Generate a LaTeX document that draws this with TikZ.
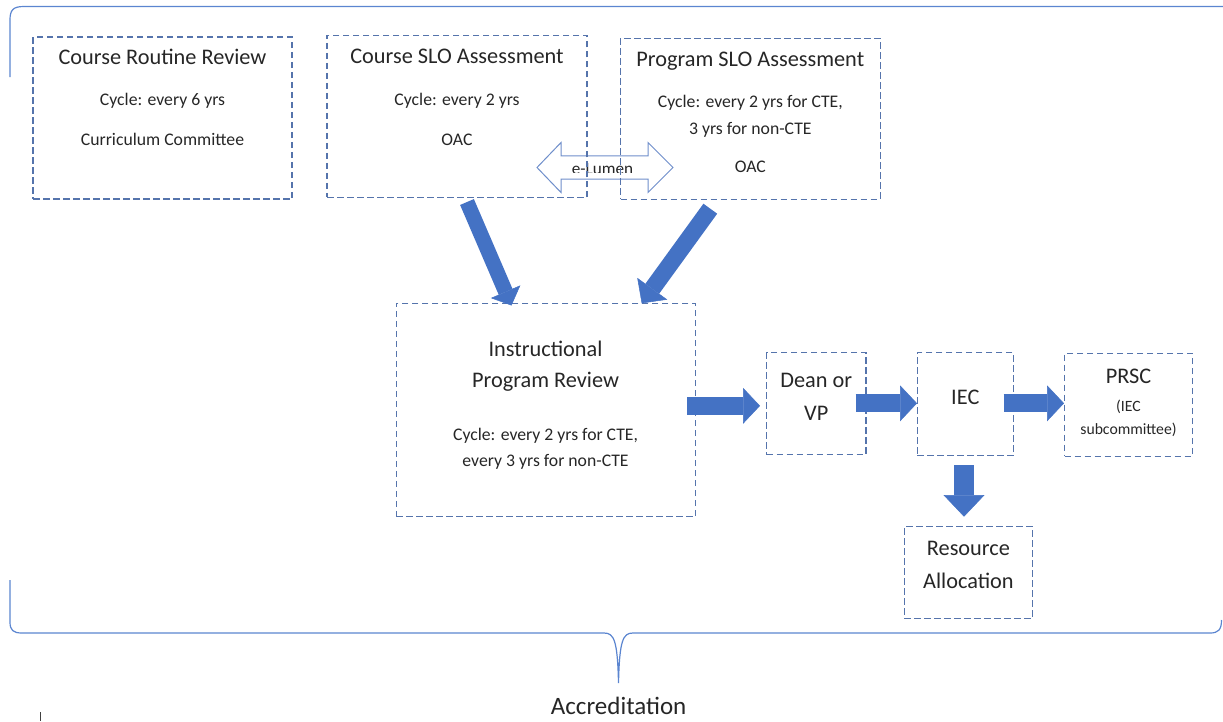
\documentclass[tikz,border=0pt]{standalone}
\usepackage{fontspec}
\setmainfont{Carlito}
\usetikzlibrary{arrows.meta}
\definecolor{boxblue}{HTML}{5574AC}
\definecolor{arrblue}{HTML}{4472C4}
\definecolor{brblue}{HTML}{5B85D0}
\definecolor{elblue}{HTML}{6F8FCB}
\definecolor{txt}{HTML}{262626}
\begin{document}
\begin{tikzpicture}[x=1pt,y=-1pt,
 box/.style={draw=boxblue, line width=1.1pt, dash pattern=on 6.5pt off 3.5pt, inner sep=0pt},
 ttl/.style={anchor=base, inner sep=0pt, text=txt, font=\fontsize{22.3}{26}\selectfont},
 sub/.style={anchor=base, inner sep=0pt, text=txt, font=\fontsize{17.7}{21}\selectfont},
 small/.style={anchor=base, inner sep=0pt, text=txt, font=\fontsize{15.7}{19}\selectfont},
 fat/.style={draw=arrblue, line width=18pt, -{Triangle[length=17pt,width=36pt,line width=0.5pt]}},
 brace/.style={draw=brblue, line width=1.2pt},
]
\useasboundingbox (0,0) rectangle (1223,721);

% bracket
\draw[brace] (10,77) -- (10,20) .. controls (10,10) and (13,6.5) .. (24,6.5) -- (1223,6.5);
\draw[brace] (10,580) -- (10,622) .. controls (10,630) and (13,633) .. (22,633) -- (604,633)
  .. controls (614,633) and (617.5,640) .. (618.5,683)
  .. controls (619.5,640) and (623,633) .. (633,633) -- (1210,633)
  .. controls (1218,633) and (1221.5,630) .. (1221.5,620);
\node[anchor=base, inner sep=0pt, text=txt, font=\fontsize{25}{29}\selectfont] (acc) at (618.6,714.7) {Accreditation};
\draw[black!75, line width=0.8pt] (40,712) -- (40,721);

% e-Lumen double arrow
\draw[elblue, fill=white, line width=1pt] (537,167.5) -- (561,142.5) -- (561,155.8) -- (648,155.8) -- (648,142.5)
  -- (673,167.5) -- (648,192.5) -- (648,179.2) -- (561,179.2) -- (561,192.5) -- cycle;
\begin{scope}
\clip (562,156.5) rectangle (647,172.8);
\node[anchor=base, inner sep=0pt, text=txt, font=\fontsize{17.2}{20}\selectfont] (el) at (602.5,174.5) {e-Lumen};
\end{scope}

% boxes
\node[box, minimum width=259pt, minimum height=162pt] (b1) at (162.5,118) {};
\node[box, minimum width=260pt, minimum height=162.3pt] (b2) at (457,116.2) {};
\node[box, minimum width=259.5pt, minimum height=161pt] (b3) at (750.3,118.8) {};
\node[box, minimum width=299.5pt, minimum height=213.4pt] (b4) at (545.8,410) {};
\node[box, minimum width=99.4pt, minimum height=101.8pt] (b5) at (816.3,403.6) {};
\node[box, minimum width=96.5pt, minimum height=102.3pt] (b6) at (965.3,403.9) {};
\node[box, minimum width=128pt, minimum height=102.7pt] (b7) at (1128.5,404.7) {};
\node[box, minimum width=128.7pt, minimum height=91.3pt] (b8) at (968.4,572.4) {};

% texts
\node[ttl] (t1a) at (162.5,64.6) {Course Routine Review};
\node[sub] (t1b) at (162.5,105.7) {Cycle: every 6 yrs};
\node[sub] (t1c) at (162.5,145.7) {Curriculum Committee};
\node[ttl] (t2a) at (457,63.8) {Course SLO Assessment};
\node[sub] (t2b) at (457,105) {Cycle: every 2 yrs};
\node[sub] (t2c) at (457,145) {OAC};
\node[ttl] (t3a) at (750.3,66.4) {Program SLO Assessment};
\node[sub] (t3b) at (750.3,107.4) {Cycle: every 2 yrs for CTE,};
\node[sub] (t3c) at (750.3,134) {3 yrs for non-CTE};
\node[sub] (t3d) at (750.3,172.4) {OAC};
\node[ttl] (t4a) at (545.5,356.4) {Instructional};
\node[ttl] (t4b) at (545.5,387.1) {Program Review};
\node[sub] (t4c) at (545.5,440.7) {Cycle: every 2 yrs for CTE,};
\node[sub] (t4d) at (545.5,466.4) {every 3 yrs for non-CTE};
\node[ttl] (t5a) at (816.3,387.1) {Dean or};
\node[ttl] (t5b) at (816.3,420.4) {VP};
\node[ttl] (t6) at (965.3,404.4) {IEC};
\node[ttl] (t7a) at (1128.5,383.8) {PRSC};
\node[small] (t7b) at (1128.5,411.7) {(IEC};
\node[small] (t7c) at (1128.5,434.3) {subcommittee)};
\node[ttl] (t8a) at (968.4,555.1) {Resource};
\node[ttl] (t8b) at (968.4,588.8) {Allocation};

% fat arrows
\coordinate (a1s) at (467,202);    \coordinate (a1e) at (511.5,305.5);
\coordinate (a2s) at (710.3,208.7); \coordinate (a2e) at (641.7,303.3);
\coordinate (a3s) at (687,405.8);  \coordinate (a3e) at (760,405.8);
\coordinate (a4s) at (855.5,403.3); \coordinate (a4e) at (917,403.3);
\coordinate (a5s) at (1003.7,403.3); \coordinate (a5e) at (1064,403.3);
\coordinate (a6s) at (964,465);    \coordinate (a6e) at (964,516.7);
\draw[fat, line width=15pt, -{Triangle[length=15pt,width=32pt,line width=0.5pt]}] (a1s) -- (a1e);
\draw[fat, line width=17pt, -{Triangle[length=18pt,width=37pt,line width=0.5pt]}] (a2s) -- (a2e);
\draw[fat] (a3s) -- (a3e);
\draw[fat] (a4s) -- (a4e);
\draw[fat] (a5s) -- (a5e);
\draw[fat, line width=19.3pt, -{Triangle[length=21.7pt,width=41pt,line width=0.5pt]}] (a6s) -- (a6e);
\end{tikzpicture}
\end{document}
